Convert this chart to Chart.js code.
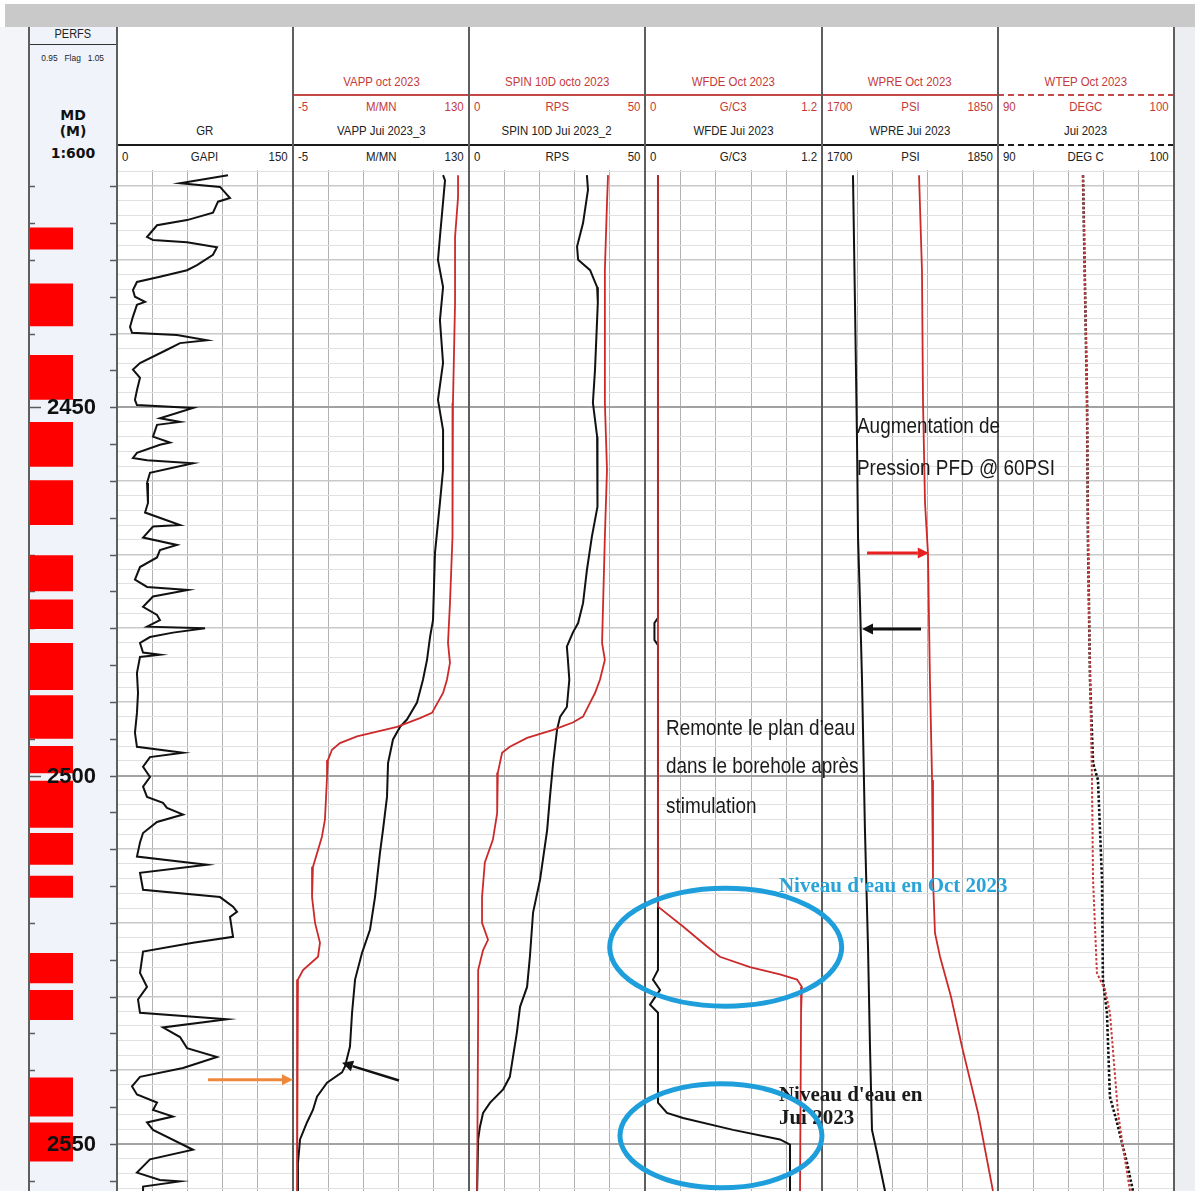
<!DOCTYPE html>
<html><head><meta charset="utf-8">
<script src="https://cdn.jsdelivr.net/npm/chart.js@4.4.1/dist/chart.umd.min.js"></script>
<style>
html,body{margin:0;padding:0}
body{width:1195px;height:1191px;overflow:hidden;position:relative;background:#fff;
 font-family:"Liberation Sans Narrow","Arial Narrow","Liberation Sans",Arial,sans-serif;color:#222}
.abs{position:absolute}
.trk{position:absolute;top:170px;height:1021px}
.trk canvas{display:block}
.hrow{position:absolute;height:16px;line-height:16px;font-size:13px;white-space:nowrap}
.sq{display:inline-block;transform:scaleX(0.88)}
.red{color:#c43a3a}
.lo{position:absolute;left:5px}.lo .sq{transform-origin:0 50%}
.mid{position:absolute;left:0;right:0;text-align:center}.mid .sq{transform-origin:50% 50%}
.hi{position:absolute;right:5px}.hi .sq{transform-origin:100% 50%}
.note{position:absolute;white-space:nowrap;font-family:"Liberation Sans",Arial,sans-serif;font-size:22px;line-height:26px;color:#1a1a1a;transform:scaleX(0.86);transform-origin:0 50%}
.blue{position:absolute;white-space:nowrap;font-family:"Liberation Serif","DejaVu Serif",serif;font-weight:bold;font-size:21px;line-height:26px;color:#2aa3d8}
.nb{position:absolute;white-space:nowrap;font-family:"Liberation Serif","DejaVu Serif",serif;font-weight:bold;font-size:21px;line-height:26px;color:#1a1a1a}
.dlab{position:absolute;font-family:"Liberation Sans",Arial,sans-serif;font-weight:bold;font-size:22px;line-height:24px;color:#111}
</style>
</head><body>
<script>
// ---------------- DATA ----------------
const DEPTH_MIN = 2417.8, DEPTH_MAX = 2556.4;
const depthLabels = [2450, 2500, 2550];

// Perforated intervals (Flag = 1 between top and base, scale 0.95 - 1.05)
const perfTop  = [2425.6,2433.2,2442.9,2452.0,2459.9,2470.1,2476.1,2482.0,2489.1,2496.0,2500.7,2507.8,2513.6,2524.1,2529.1,2541.0,2547.1];
const perfBase = [2428.6,2439.0,2449.0,2458.1,2466.0,2475.0,2480.1,2488.4,2495.0,2499.7,2507.1,2512.1,2516.6,2528.2,2533.2,2546.3,2552.4];
const perfFlag = 1.0;

// GR (GAPI)
const grDepth = [2418.5,2419.6,2420.1,2421.6,2422.1,2423.6,2424.6,2425.3,2426.9,2427.3,2427.6,2428.3,2429.3,2430.7,2431.4,2432.3,2433.0,2434.1,2435.0,2435.7,
 2436.1,2437.7,2439.1,2439.9,2440.2,2440.9,2441.3,2442.2,2444.0,2444.9,2446.0,2447.7,2449.0,2449.7,2450.1,2451.5,2452.0,2452.4,2454.0,2454.8,
 2455.1,2456.2,2456.9,2457.2,2457.6,2458.9,2460.3,2463.0,2464.3,2466.0,2466.2,2467.7,2468.7,2469.4,2470.4,2471.7,2473.4,2474.4,2474.8,2475.7,
 2477.1,2478.2,2478.9,2479.8,2480.0,2480.6,2481.2,2482.0,2483.3,2483.6,2483.9,2486.1,2488.8,2491.5,2494.2,2496.1,2496.9,2497.5,2498.8,2500.2,
 2501.5,2502.9,2503.7,2504.4,2505.3,2506.3,2507.8,2509.1,2511.0,2512.1,2513.2,2515.5,2516.5,2517.8,2518.5,2519.2,2521.9,2522.7,2523.9,2526.8,
 2528.7,2530.4,2532.2,2533.1,2534.2,2535.5,2537.0,2538.2,2539.7,2540.9,2542.2,2543.3,2544.4,2545.4,2546.3,2547.1,2548.1,2550.8,2552.1,2553.9,
 2554.9,2555.1,2555.8,2556.4];
const grValue = [94.6,53.7,87.8,96.3,86.1,81.8,59.7,34.1,25.6,30.7,59.7,85.2,81.8,68.2,59.7,36.6,17.0,13.6,15.3,23.9,
 17.0,13.6,11.1,12.8,51.1,76.7,53.7,42.6,19.6,13.6,19.6,17.0,15.3,17.0,64.8,36.6,53.7,34.1,30.7,45.2,
 36.6,17.0,13.6,25.6,64.8,28.1,25.6,26.4,23.9,53.7,30.7,22.2,51.1,36.6,34.1,19.6,15.3,25.6,60.5,30.7,
 22.2,34.1,36.6,25.6,75.0,47.7,28.1,19.6,22.2,36.6,19.6,17.0,17.9,17.0,15.3,17.0,56.3,28.1,22.2,28.1,
 22.2,25.6,39.2,42.6,56.3,34.1,22.2,19.6,17.0,76.7,19.6,22.2,87.8,98.9,102.3,96.3,98.9,64.8,22.2,19.6,
 25.6,17.9,19.6,93.8,39.2,53.7,59.7,85.2,56.3,19.6,12.8,17.0,34.1,30.7,47.7,25.6,30.7,64.8,28.1,17.0,
 36.6,53.7,22.2,22.2];

// VAPP (M/MN)
const vappJuiDepth = [2418.5,2419.2,2426.9,2430.0,2433.7,2438.2,2444.0,2449.0,2453.1,2458.5,2463.0,2469.8,2478.9,2481.2,2484.3,2487.0,2490.1,2492.4,2493.4,2495.1,
 2498.3,2502.9,2507.4,2510.5,2516.5,2520.9,2524.1,2527.7,2532.2,2536.8,2539.5,2540.3,2541.7,2543.6,2545.4,2547.1,2549.4,2552.6,2556.4];
const vappJui = [110.1,111.6,107.7,106.2,110.1,107.7,110.1,106.2,110.1,110.1,107.7,103.9,102.4,100.1,97.8,94.7,90.1,82.4,77.1,71.7,
 67.9,67.1,64.0,61.7,57.9,54.1,47.9,42.6,40.3,38.7,34.9,32.6,21.1,13.4,10.3,5.7,0.4,-1.2,-1.2];
const vappOctDepth = [2418.5,2421.5,2426.9,2435.8,2449.4,2458.5,2467.6,2476.6,2482.0,2484.7,2487.0,2488.8,2491.5,2492.2,2493.4,2494.7,2495.6,2496.5,2497.9,2500.2,
 2506.0,2508.3,2512.4,2516.5,2520.0,2522.7,2524.6,2526.4,2527.7,2532.2,2556.4];
const vappOct = [121.6,121.6,119.3,119.3,117.7,117.7,117.0,115.4,113.9,115.4,113.1,110.1,101.6,92.4,74.8,44.1,31.0,24.9,21.8,21.1,
 19.5,17.2,10.3,9.6,11.9,15.7,14.2,2.7,-1.2,-1.9,-1.9];

// SPIN 10D (RPS)
const spinJuiDepth = [2418.5,2420.5,2425.0,2428.2,2430.0,2431.4,2433.7,2435.8,2444.9,2449.4,2454.0,2460.8,2463.5,2467.6,2472.1,2476.6,2479.3,2480.6,2482.5,2484.3,
 2487.0,2490.7,2492.0,2493.8,2498.3,2502.9,2507.4,2514.1,2518.6,2524.6,2528.7,2531.4,2534.9,2538.2,2540.9,2542.6,2544.4,2545.8,2547.7,2549.4,2556.4];
const spinJui = [33.5,33.8,32.4,30.7,31.0,34.4,36.4,36.6,35.8,35.2,36.4,36.6,36.4,34.9,33.5,32.4,31.0,29.5,27.8,28.1,
 28.5,27.8,25.9,25.0,23.9,23.0,22.2,20.2,18.2,17.3,16.5,14.5,13.6,12.5,11.6,9.7,6.0,4.0,3.1,2.6,2.3];
const spinOctDepth = [2418.5,2422.3,2431.4,2440.5,2449.4,2458.5,2467.6,2476.6,2482.0,2484.3,2487.0,2488.8,2490.1,2492.0,2492.8,2493.8,2494.9,2496.1,2496.9,2499.6,
 2505.1,2508.7,2511.8,2516.5,2520.0,2522.3,2523.7,2526.4,2532.2,2556.4];
const spinOct = [39.5,39.2,38.6,38.6,38.6,39.2,38.6,38.1,37.8,38.6,37.2,35.8,34.4,32.4,29.5,23.9,16.5,11.6,9.4,8.2,
 8.0,6.8,4.5,3.7,3.7,5.4,4.0,2.6,2.6,2.3];

// WFDE (G/C3)
const wfdeJuiDepth = [2418.5,2478.6,2479.3,2481.6,2482.3,2526.4,2527.7,2529.1,2531.1,2532.2,2544.4,2545.8,2546.5,2548.1,2549.4,2550.1,2556.4];
const wfdeJui = [0.088,0.088,0.064,0.064,0.088,0.088,0.054,0.102,0.034,0.088,0.088,0.149,0.258,0.597,0.915,0.983,0.983];
const wfdeOctDepth = [2418.5,2449.0,2476.1,2517.8,2520.5,2523.2,2524.6,2526.0,2527.0,2527.7,2528.7,2532.2,2556.4];
const wfdeOct = [0.088,0.088,0.088,0.088,0.258,0.420,0.508,0.712,0.915,1.031,1.064,1.058,1.051];

// WPRE (PSI)
const wpreJuiDepth = [2418.5,2435.8,2454.0,2467.6,2476.6,2487.0,2507.4,2523.2,2536.8,2548.1,2551.2,2556.4];
const wpreJui = [1726.4,1728.1,1729.8,1730.7,1732.4,1734.1,1736.6,1739.2,1740.9,1742.6,1746.9,1753.7];
const wpreOctDepth = [2418.5,2431.4,2449.4,2463.0,2469.8,2487.0,2500.6,2514.1,2521.4,2524.6,2530.0,2536.8,2545.8,2556.4];
const wpreOct = [1782.7,1785.2,1786.1,1787.8,1790.3,1792.0,1793.8,1794.6,1796.3,1800.6,1809.9,1819.3,1833.0,1845.7];

// WTEP (DEG C)
const wtepJuiDepth = [2418.5,2449.4,2467.6,2487.0,2498.3,2500.6,2514.1,2527.7,2532.2,2543.6,2547.1,2552.6,2556.4];
const wtepJui = [94.83,95.06,95.11,95.23,95.40,95.68,95.91,95.96,96.19,96.36,96.76,97.33,97.67];
const wtepOctDepth = [2418.5,2449.4,2467.6,2487.0,2500.6,2514.1,2526.8,2529.1,2532.2,2545.8,2550.4,2556.4];
const wtepOct = [94.83,95.06,95.11,95.23,95.34,95.40,95.62,96.08,96.36,96.82,97.10,97.50];

// Header texts / scales
const octTitles  = ['', 'VAPP oct 2023', 'SPIN 10D octo 2023', 'WFDE Oct 2023', 'WPRE Oct 2023', 'WTEP Oct 2023'];
const octUnits   = ['', 'M/MN', 'RPS', 'G/C3', 'PSI', 'DEGC'];
const juiTitles  = ['GR', 'VAPP Jui 2023_3', 'SPIN 10D Jui 2023_2', 'WFDE Jui 2023', 'WPRE Jui 2023', 'Jui 2023'];
const juiUnits   = ['GAPI', 'M/MN', 'RPS', 'G/C3', 'PSI', 'DEG C'];
const scaleMin   = [0, -5, 0, 0, 1700, 90];
const scaleMax   = [150, 130, 50, 1.2, 1850, 100];
const scaleMinTxt = ['0','-5','0','0','1700','90'];
const scaleMaxTxt = ['150','130','50','1.2','1850','100'];

// ---------------- LAYOUT ----------------
const PLOT_TOP = 170, PLOT_H = 1021;
const edges = [117, 293, 469, 645, 822, 998, 1174];
const DEPTH_L = 29, DEPTH_W = 88;
const RED = '#cc2a2a', BLACK = '#111111';

function el(tag, cls, style, html){ const e=document.createElement(tag); if(cls) e.className=cls; if(style) e.style.cssText=style; if(html!=null) e.innerHTML=html; document.body.appendChild(e); return e; }
const sq = t => '<span class="sq">'+t+'</span>';

// backgrounds
el('div','abs','left:5px;top:4px;width:1190px;height:23px;background:#c9c9c9');
el('div','abs','left:0;top:27px;width:29px;height:1164px;background:#f3f5f8');
el('div','abs','left:29px;top:27px;width:88px;height:1164px;background:#f0f4fa');
el('div','abs','left:1174px;top:27px;width:21px;height:1164px;background:#eceef1');

// depth grid values (every 2 m) and depth-track ticks (every 5 m)
const depthGrid = []; for (let d = 2418; d <= 2556; d += 2) depthGrid.push(d);
const depthTicks = []; for (let d = 2420; d <= 2555; d += 5) depthTicks.push(d);

const charts = {};
function mkChart(key, left, width, xmin, xmax, nDiv, datasets, plugins, bg){
  const wrap = el('div','trk','left:'+left+'px;width:'+width+'px;background:'+bg);
  const c = document.createElement('canvas'); c.width = width; c.height = PLOT_H; wrap.appendChild(c);
  const xGrid = []; for (let i=1;i<nDiv;i++) xGrid.push(xmin + (xmax-xmin)*i/nDiv);
  const ch = new Chart(c, {
    type:'line',
    data:{datasets},
    options:{
      responsive:false, animation:false, indexAxis:'y', layout:{padding:0},
      plugins:{legend:{display:false}, tooltip:{enabled:false}},
      elements:{point:{radius:0}, line:{tension:0}},
      scales:{
        x:{type:'linear', position:'top', min:xmin, max:xmax, ticks:{display:false}, border:{display:false},
           grid:{drawTicks:false, color:'#b2b2b2', lineWidth:1},
           afterBuildTicks:s=>{ s.ticks = xGrid.map(v=>({value:v})); }},
        y:{type:'linear', reverse:true, min:DEPTH_MIN, max:DEPTH_MAX, ticks:{display:false}, border:{display:false},
           grid:{drawTicks:false, display:nDiv>0,
             color:ctx=>{ const v=ctx.tick?ctx.tick.value:0; return v%50===0?'#a2a2a2':(v%10===0?'#c9c9c9':'#e1e1e1'); },
             lineWidth:ctx=>{ const v=ctx.tick?ctx.tick.value:0; return v%50===0?2:(v%10===0?1.5:1); }},
           afterBuildTicks:s=>{ s.ticks = depthGrid.map(v=>({value:v})); }}
      }
    },
    plugins: plugins||[]
  });
  charts[key] = {chart:ch, left};
  return ch;
}
// first dataset listed is drawn on top
function series(depths, values, color, width, dash){
  return {data: depths.map((d,i)=>({x:values[i], y:d})), borderColor:color, borderWidth:width||2,
          borderDash:dash||[], pointRadius:0, fill:false, tension:0};
}

// Depth / perfs track
const depthTickPlugin = {id:'depthTicks', beforeDatasetsDraw(ch){
  const {ctx, chartArea:a, scales:{y}} = ch; ctx.save(); ctx.strokeStyle='#5a5a5a'; ctx.lineWidth=1.5;
  depthTicks.forEach(d=>{ const py=Math.round(y.getPixelForValue(d))+0.5; ctx.beginPath();
    ctx.moveTo(a.left,py); ctx.lineTo(a.left+(d%50===0?12:6),py); ctx.moveTo(a.right-7,py); ctx.lineTo(a.right,py); ctx.stroke(); });
  ctx.restore(); }};
const perfSets = perfTop.map((t,i)=>({
  data:[{x:0.95,y:t},{x:perfFlag,y:t},{x:perfFlag,y:perfBase[i]},{x:0.95,y:perfBase[i]},{x:0.95,y:t}],
  borderColor:'#ff0000', borderWidth:0, backgroundColor:'#ff0000', fill:'shape', pointRadius:0, tension:0}));
mkChart('perf', DEPTH_L, DEPTH_W, 0.95, 1.05, 0, perfSets, [depthTickPlugin], 'transparent');

mkChart('gr', edges[0], 176, 0, 150, 5, [series(grDepth, grValue, BLACK, 2)], null, '#fff');
mkChart('vapp', edges[1], 176, -5, 130, 5, [series(vappOctDepth, vappOct, RED, 1.8), series(vappJuiDepth, vappJui, BLACK, 2)], null, '#fff');
mkChart('spin', edges[2], 176, 0, 50, 5, [series(spinOctDepth, spinOct, RED, 1.8), series(spinJuiDepth, spinJui, BLACK, 2)], null, '#fff');
mkChart('wfde', edges[3], 177, 0, 1.2, 5, [series(wfdeOctDepth, wfdeOct, RED, 1.8), series(wfdeJuiDepth, wfdeJui, BLACK, 2)], null, '#fff');
mkChart('wpre', edges[4], 176, 1700, 1850, 5, [series(wpreOctDepth, wpreOct, RED, 1.8), series(wpreJuiDepth, wpreJui, BLACK, 2)], null, '#fff');
mkChart('wtep', edges[5], 176, 90, 100, 5, [series(wtepOctDepth, wtepOct, '#c83a3a', 2, [2.5,2]), series(wtepJuiDepth, wtepJui, BLACK, 2.6, [2.5,2])], null, '#fff');

// ---------------- HEADER ----------------
el('div','abs','left:29px;top:26px;width:88px;text-align:center;font-size:12.5px;line-height:16px',sq('PERFS'));
el('div','abs','left:29px;top:44px;width:88px;height:0;border-top:1.5px solid #333');
el('div','abs','left:29px;top:51px;width:88px;font-size:9.5px;line-height:14px;text-align:center;white-space:nowrap',sq('0.95&nbsp;&nbsp;&nbsp;Flag&nbsp;&nbsp;&nbsp;1.05'));
el('div','abs','left:29px;top:107px;width:88px;text-align:center;font-family:"DejaVu Sans",sans-serif;font-weight:bold;font-size:14px;line-height:16px;color:#111','MD<br>(M)');
el('div','abs','left:29px;top:145px;width:88px;text-align:center;font-family:"DejaVu Sans",sans-serif;font-weight:bold;font-size:14px;line-height:16px;color:#111','1:600');

for (let i=0;i<6;i++){
  const L = edges[i], W = edges[i+1]-edges[i];
  if (octTitles[i]) {
    el('div','hrow red','left:'+L+'px;top:74px;width:'+W+'px;text-align:center', sq(octTitles[i]));
    el('div','hrow red','left:'+L+'px;top:99px;width:'+W+'px',
      '<span class="lo">'+sq(scaleMinTxt[i])+'</span><span class="mid">'+sq(octUnits[i])+'</span><span class="hi">'+sq(scaleMaxTxt[i])+'</span>');
  }
  el('div','hrow','left:'+L+'px;top:123px;width:'+W+'px;text-align:center', sq(juiTitles[i]));
  el('div','hrow','left:'+L+'px;top:149px;width:'+W+'px',
    '<span class="lo">'+sq(scaleMinTxt[i])+'</span><span class="mid">'+sq(juiUnits[i])+'</span><span class="hi">'+sq(scaleMaxTxt[i])+'</span>');
}
// header lines
el('div','abs','left:293px;top:94px;width:705px;height:0;border-top:2px solid #c44848');
el('div','abs','left:998px;top:94px;width:176px;height:0;border-top:2px dashed #c44848');
el('div','abs','left:117px;top:144px;width:881px;height:0;border-top:2.5px solid #1a1a1a');
el('div','abs','left:998px;top:144px;width:176px;height:0;border-top:2.5px dashed #1a1a1a');
// vertical track borders
[29].concat(edges).forEach(x=>{ el('div','abs','left:'+(x-1)+'px;top:27px;width:2px;height:1164px;background:#5e5e5e'); });

// ---------------- ANNOTATIONS ----------------
function P(key, v, d){ const c = charts[key]; return [c.left + c.chart.scales.x.getPixelForValue(v), PLOT_TOP + c.chart.scales.y.getPixelForValue(d)]; }

depthLabels.forEach(d=>{ const [x,y] = P('perf', 0.95, d); el('div','dlab','left:'+(x+18)+'px;top:'+(y-12)+'px', String(d)); });

function note(key, v, d, text, cls){ const [x,y] = P(key, v, d); el('div',cls||'note','left:'+x+'px;top:'+(y-13)+'px', text); }
note('wpre', 1730.2, 2452.6, 'Augmentation de');
note('wpre', 1730.2, 2458.2, 'Pression PFD @ 60PSI');
note('wfde', 0.142, 2493.5, 'Remonte le plan d’eau');
note('wfde', 0.142, 2498.7, 'dans le borehole après');
note('wfde', 0.142, 2504.2, 'stimulation');
note('wfde', 0.908, 2514.8, 'Niveau d\'eau en Oct 2023', 'blue');
note('wfde', 0.908, 2543.3, 'Niveau d\'eau en', 'nb');
note('wfde', 0.908, 2546.4, 'Jui 2023', 'nb');

const NS='http://www.w3.org/2000/svg';
const svg = document.createElementNS(NS,'svg'); svg.setAttribute('width','1195'); svg.setAttribute('height','1191');
svg.style.cssText='position:absolute;left:0;top:0;pointer-events:none'; document.body.appendChild(svg);
function svgEl(tag, attrs){ const e=document.createElementNS(NS,tag); for (const k in attrs) e.setAttribute(k, attrs[k]); svg.appendChild(e); return e; }
function ellipse(key, v, d, rx, ry){ const [x,y]=P(key,v,d); svgEl('ellipse',{cx:x,cy:y,rx,ry,fill:'none',stroke:'#1e9fdb','stroke-width':5}); }
function arrow(k1,v1,d1,k2,v2,d2,color,w){
  const [x1,y1]=P(k1,v1,d1), [x2,y2]=P(k2,v2,d2);
  const ang=Math.atan2(y2-y1,x2-x1), hl=11, hw=5.5;
  const bx=x2-hl*Math.cos(ang), by=y2-hl*Math.sin(ang);
  svgEl('line',{x1,y1,x2:bx,y2:by,stroke:color,'stroke-width':w});
  svgEl('polygon',{points:[x2,y2, bx+hw*Math.sin(ang),by-hw*Math.cos(ang), bx-hw*Math.sin(ang),by+hw*Math.cos(ang)].join(','),fill:color});
}
ellipse('wfde', 0.547, 2523.3, 116, 59);
ellipse('wfde', 0.515, 2548.9, 101, 52);
arrow('gr', 77.6, 2541.3, 'vapp', -5, 2541.3, '#f0883c', 3);
arrow('vapp', 76.3, 2541.4, 'vapp', 32.6, 2539.0, '#111', 2.5);
arrow('wpre', 1738.4, 2469.8, 'wpre', 1791.0, 2469.8, '#e82020', 3);
arrow('wpre', 1784.4, 2480.1, 'wpre', 1734.1, 2480.1, '#111', 3);
</script>
</body></html>
